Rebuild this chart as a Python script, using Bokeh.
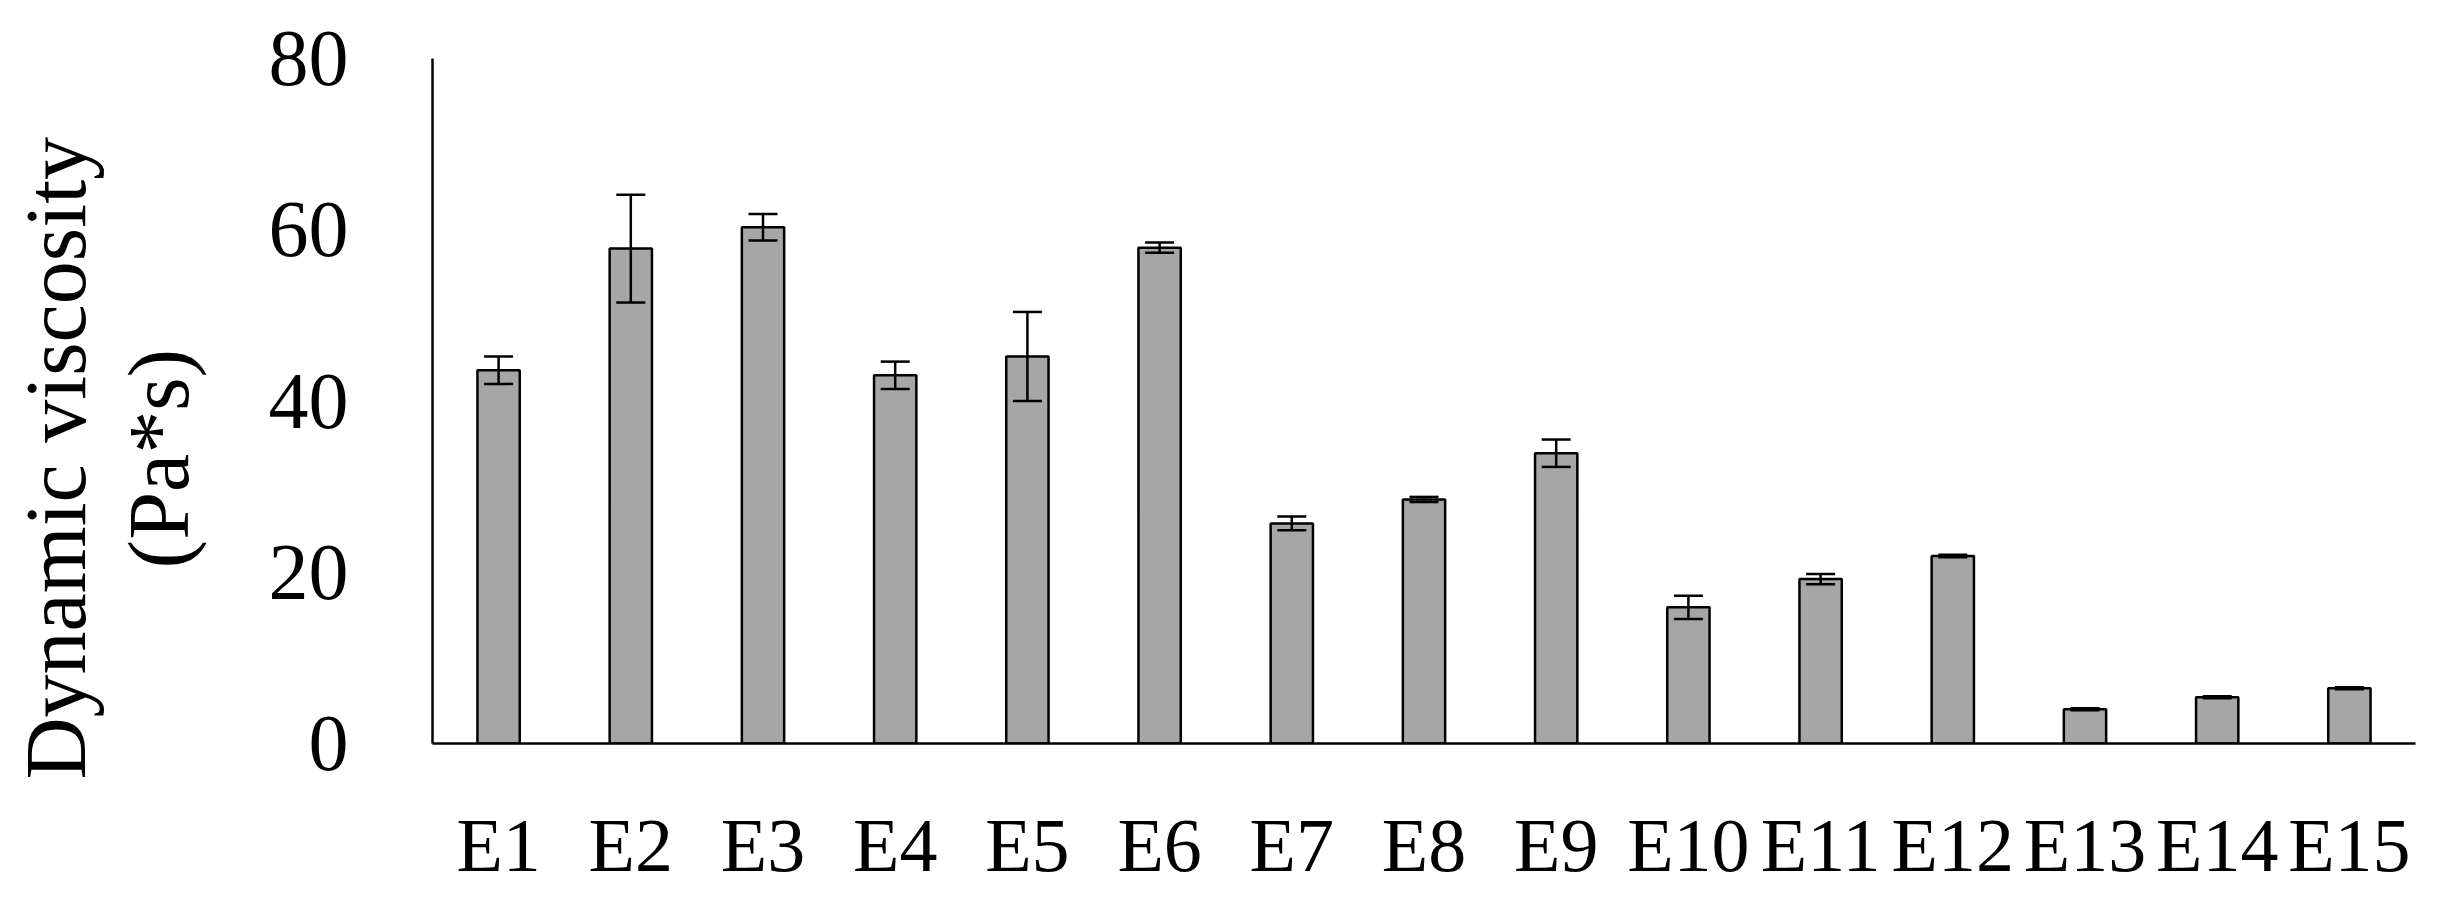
from bokeh.plotting import figure
from bokeh.models import (ColumnDataSource, FactorRange, Range1d, Whisker, TeeHead,
                          FixedTicker, Title)
from bokeh.embed import file_html
from bokeh.resources import INLINE

categories = ["E1", "E2", "E3", "E4", "E5", "E6", "E7", "E8", "E9", "E10",
              "E11", "E12", "E13", "E14", "E15"]
viscosity = [43.6, 57.8, 60.3, 43.0, 45.2, 57.9, 25.7, 28.5, 33.9, 15.9,
             19.2, 21.9, 4.0, 5.4, 6.45]
errors = [1.6, 6.3, 1.55, 1.6, 5.2, 0.6, 0.8, 0.3, 1.6, 1.35,
          0.6, 0.15, 0.12, 0.12, 0.12]
y_ticks = [0, 20, 40, 60, 80]
y_title_line1 = "Dynamic viscosity"
y_title_line2 = "(Pa*s)"

FONT = "Liberation Serif"

src = ColumnDataSource(dict(
    x=categories,
    top=viscosity,
    upper=[v + e for v, e in zip(viscosity, errors)],
    lower=[v - e for v, e in zip(viscosity, errors)],
))

p = figure(x_range=FactorRange(*categories), y_range=Range1d(0, 80),
           width=2422, height=896, output_backend="svg", toolbar_location=None,
           min_border_left=431, min_border_right=7, min_border_top=58,
           min_border_bottom=153)

p.vbar(x="x", top="top", width=0.32, source=src, fill_color="#A6A6A6",
       line_color="black", line_width=2.5)

wh = Whisker(source=src, base="x", upper="upper", lower="lower",
             line_color="black", line_width=2.5, level="overlay",
             upper_head=TeeHead(size=29, line_color="black", line_width=2.5),
             lower_head=TeeHead(size=29, line_color="black", line_width=2.5))
p.add_layout(wh)

p.xgrid.visible = False
p.ygrid.visible = False
p.outline_line_color = None

for ax in (p.xaxis, p.yaxis):
    ax.axis_line_color = "black"
    ax.axis_line_width = 2.5
    ax.major_tick_line_color = None
    ax.minor_tick_line_color = None
    ax.major_label_text_font = FONT
    ax.major_label_text_color = "black"

p.yaxis.ticker = FixedTicker(ticks=y_ticks)
p.yaxis.major_label_text_font_size = "80px"
p.yaxis.major_label_standoff = 78
# invisible spacer label to leave a gap between tick labels and the title
p.yaxis.axis_label = " "
p.yaxis.axis_label_text_font_size = "1px"
p.yaxis.axis_label_standoff = 55
p.xaxis.major_label_text_font_size = "76px"
p.xaxis.major_label_standoff = 53

t1 = Title(text=y_title_line2, align="left", offset=175, vertical_align="bottom",
           text_font=FONT, text_font_size="86px", text_font_style="normal",
           text_color="black", standoff=0)
t2 = Title(text=y_title_line1, align="left", offset=-36, vertical_align="bottom",
           text_font=FONT, text_font_size="86px", text_font_style="normal",
           text_color="black", standoff=10)
p.add_layout(t1, "left")
p.add_layout(t2, "left")

open("out.html", "w").write(file_html(p, INLINE))
